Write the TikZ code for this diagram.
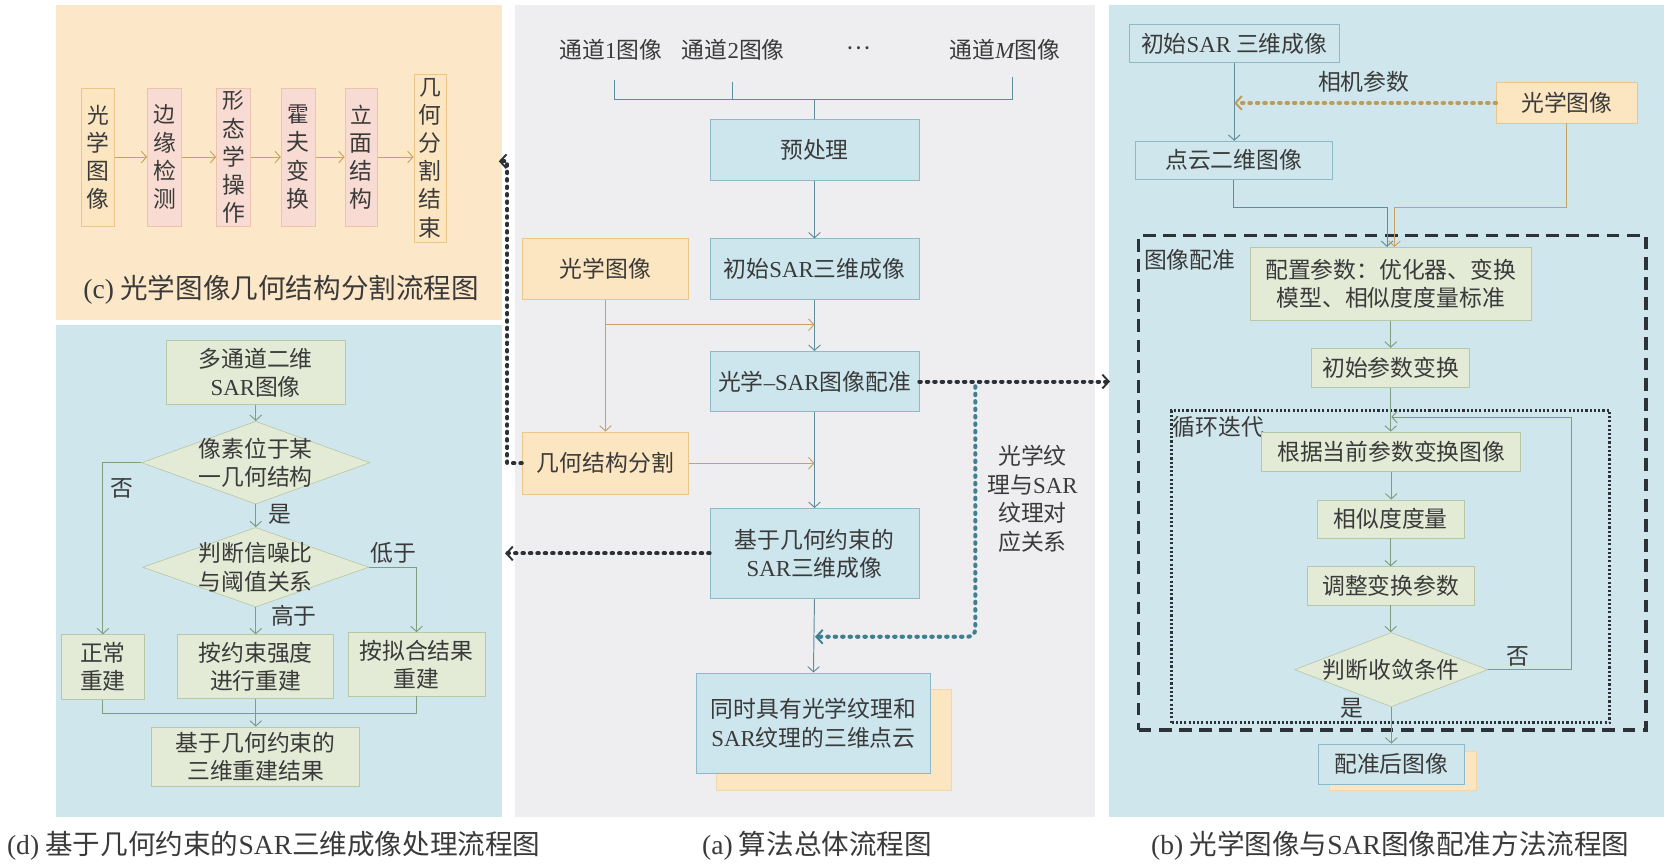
\documentclass[tikz,border=0pt]{standalone}
\usepackage{fontspec}
\setmainfont{Noto Sans CJK SC}
\newfontfamily\lat{Liberation Serif}
\usetikzlibrary{arrows.meta,shapes.geometric}
\definecolor{txt}{HTML}{3A3A3A}
\definecolor{bgc}{HTML}{FCE8C8}
\definecolor{bgb}{HTML}{CFE6EC}
\definecolor{bga}{HTML}{EEEEF0}
\definecolor{bfill}{HTML}{CDE6EE}
\definecolor{bdraw}{HTML}{8FB9C6}
\definecolor{ofill}{HTML}{FCE6C1}
\definecolor{odraw}{HTML}{EBC688}
\definecolor{pfill}{HTML}{F8DCD3}
\definecolor{pdraw}{HTML}{EDC3AE}
\definecolor{gfill}{HTML}{E3EBD6}
\definecolor{gdraw}{HTML}{B7C8A6}
\definecolor{lblue}{HTML}{5E8E9C}
\definecolor{lor}{HTML}{C9A263}
\definecolor{lgreen}{HTML}{7E9E82}
\definecolor{dotk}{HTML}{2C3136}
\definecolor{dott}{HTML}{3F7F8F}
\definecolor{doto}{HTML}{BE9A5C}
\definecolor{dashk}{HTML}{2C3238}
\newcommand\SAR{{\lat SAR}}
\newcommand\vertfont{\fontsize{20.5}{21.8}\selectfont}
\newcommand\bx[7]{\node[#1, minimum width={(#5)-(#3)}, minimum height={(#6)-(#4)}] (#2) at ({((#3)+(#5))/2},{((#4)+(#6))/2}) {#7};}
\tikzset{
  base/.style={draw, line width=0.6pt, inner sep=0pt, align=center, text=txt, font=\fontsize{21.5}{26.5}\selectfont},
  bluebox/.style={base, fill=bfill, draw=bdraw},
  bluebox2/.style={base, fill=bgb, draw=bdraw},
  orbox/.style={base, fill=ofill, draw=odraw},
  pkbox/.style={base, fill=pfill, draw=pdraw},
  gnbox/.style={base, fill=gfill, draw=gdraw},
  shadowbox/.style={base, fill=ofill, draw=odraw!70},
  diam/.style={shape=diamond, draw=gdraw, fill=gfill, line width=0.6pt, inner sep=0pt},
  lbl/.style={inner sep=0pt, text=txt, align=center, font=\fontsize{21.5}{27}\selectfont},
  captxt/.style={inner sep=0pt, text=txt, font=\fontsize{26}{30}\selectfont},
  arr/.style={-{Straight Barb[length=5pt,width=11pt,line width=0.9pt]}},
  lineb/.style={draw=lblue, line width=0.9pt},
  lineo/.style={draw=lor, line width=0.9pt},
  lineg/.style={draw=lgreen, line width=0.9pt},
  kdot/.style={draw=dotk, line width=3.8pt, line cap=round, dash pattern=on 1.4pt off 5.6pt},
  tdot/.style={draw=dott, line width=3.8pt, line cap=round, dash pattern=on 1.4pt off 5.6pt},
  odot/.style={draw=doto, line width=3.8pt, line cap=round, dash pattern=on 1.4pt off 5.6pt},
  bigarr/.style={-{Straight Barb[length=6pt,width=13pt,line width=1.8pt]}},
  dashbox/.style={draw=dashk, line width=3.2pt, dash pattern=on 12pt off 7pt, inner sep=0pt},
  dotbox/.style={draw=dashk, line width=2.8pt, dash pattern=on 2pt off 2pt, inner sep=0pt},
}
\begin{document}
\begin{tikzpicture}[x=1pt,y=-1pt]
\useasboundingbox (0,0) rectangle (1568,815);
\fill[white] (0,0) rectangle (1568,815);
% panel backgrounds
\fill[bgc] (53,5) rectangle (473,302);
\fill[bgb] (53,306) rectangle (473,770);
\fill[bga] (485,5) rectangle (1032,770);
\fill[bgb] (1045,5) rectangle (1568,770);

% ---------- panel (a) ----------
\node[lbl] (ch1) at (575.5,47) {通道{\lat 1}图像};
\node[lbl] (ch2) at (691,47) {通道{\lat 2}图像};
\node[lbl] (chd) at (809,45) {…};
\node[lbl] (chm) at (947,47) {通道{\lat\itshape M}图像};
\bx{bluebox}{pre}{669}{112}{866}{170}{预处理}
\bx{bluebox}{init}{669}{225}{866}{282}{初始\SAR 三维成像}
\bx{orbox}{opt}{492}{225}{649}{282}{光学图像}
\bx{bluebox}{reg}{669}{331}{866}{388}{光学{\lat –}\SAR 图像配准}
\bx{orbox}{seg}{492}{407}{649}{466}{几何结构分割}
\bx{bluebox}{geo}{669}{479}{866}{564}{基于几何约束的\\\SAR 三维成像}
\bx{shadowbox}{outsh}{675}{650}{896}{745}{}
\bx{bluebox}{out}{656}{634}{877}{729}{同时具有光学纹理和\\\SAR 纹理的三维点云}
\node[lbl] (tex) at (973,470) {光学纹\\理与\SAR\\纹理对\\应关系};

\coordinate (k1) at (579,75);
\coordinate (k2) at (690,77);
\coordinate (k3) at (954,73);
\coordinate (kj) at (767.5,94);
\draw[lineb] (k1) |- (kj) -| (k3);
\draw[lineb] (k2) -- (k2 |- kj);
\draw[lineb] (kj) -- (pre.north);
\draw[lineb,arr] (pre.south) -- (init.north);
\draw[lineb,arr] (init.south) -- (reg.north);
\draw[lineb,arr] (reg.south) -- (geo.north);
\draw[lineb,arr] (geo.south) -- (out.north);
\coordinate (oj) at (570.5,306);
\draw[lineo,arr] (opt.south) -- (seg.north);
\draw[lineo,arr] (oj) -- (oj -| reg.north);
\draw[lineo,arr] (seg.east) -- (seg.east -| geo.north);
% dotted links
\coordinate (toB) at (1046,359.5);
\coordinate (toD) at (476,521.5);
\coordinate (segc) at (478,436.5);
\coordinate (toC) at (470,152);
\coordinate (tj) at (919,364);
\coordinate (tm) at (768,600);
\draw[kdot,bigarr] (reg.east) -- (toB);
\draw[kdot,bigarr] (geo.west) -- (toD);
\draw[kdot,bigarr] (seg.west) -- (segc) -- (segc |- toC) -- (toC);
\draw[tdot,bigarr,rounded corners=7pt] (tj) -- (tj |- tm) -- (tm);

% ---------- panel (b) ----------
\bx{bluebox2}{binit}{1064}{23}{1262}{59}{初始\SAR\ 三维成像}
\bx{orbox}{bopt}{1410}{78}{1543}{116}{光学图像}
\bx{bluebox2}{pc}{1070}{133}{1255}{169}{点云二维图像}
\node[lbl] (cam) at (1285,77) {相机参数};
\node[dashbox, minimum width=478, minimum height=466] (regbox) at (1312,455) {};
\node[lbl] (regl) at (1121,245) {图像配准};
\bx{gnbox}{cfg}{1178}{233}{1443}{302}{配置参数：优化器、变换\\模型、相似度度量标准}
\bx{gnbox}{initp}{1236}{328}{1385}{365}{初始参数变换}
\node[dotbox, minimum width=413, minimum height=294] (loopbox) at (1310.5,534) {};
\node[lbl] (loopl) at (1148,402) {循环迭代};
\bx{gnbox}{trans}{1189}{407}{1433}{444}{根据当前参数变换图像}
\bx{gnbox}{sim}{1241}{471}{1380}{507}{相似度度量}
\bx{gnbox}{adj}{1232}{534}{1389}{570}{调整变换参数}
\node[diam, minimum width=182, minimum height=70] (conv) at (1311,631) {};
\node[lbl] (convt) at (conv) {判断收敛条件};
\bx{shadowbox}{aftsh}{1253}{708}{1391}{745}{}
\bx{bluebox2}{after}{1242}{701}{1380}{739}{配准后图像}
\node[lbl] (bno) at (1430,619) {否};
\node[lbl] (byes) at (1274,667) {是};

\draw[odot,bigarr] (bopt.west) -- (bopt.west -| binit.south);
\draw[lineb,arr] (binit.south) -- (binit.south |- pc.north);
\draw[lineb,arr] (pc.south) -- ++(0,26) -| ([xshift=-3.5pt]cfg.north);
\draw[lineo,arr] (bopt.south) -- ++(0,79) -| ([xshift=3.5pt]cfg.north);
\draw[lineg,arr] (cfg.south) -- (cfg.south |- initp.north);
\draw[lineg,arr] (initp.south) -- (initp.south |- trans.north);
\draw[lineg,arr] (trans.south) -- (trans.south |- sim.north);
\draw[lineg,arr] (sim.south) -- (sim.south |- adj.north);
\draw[lineg,arr] (adj.south) -- (adj.south |- conv.north);
\draw[lineg,arr] (conv.south) -- (after.north);
\coordinate (lp) at (1481,393);
\draw[lineg,arr] (conv.east) -| (lp) -- (lp -| conv.north);

% ---------- panel (c) ----------
\bx{orbox}{c1}{77}{83}{108}{213}{\vertfont 光\\学\\图\\像}
\bx{pkbox}{c2}{139}{83}{171}{213}{\vertfont 边\\缘\\检\\测}
\bx{pkbox}{c3}{204}{83}{236}{213}{\vertfont 形\\态\\学\\操\\作}
\bx{pkbox}{c4}{265}{83}{297}{213}{\vertfont 霍\\夫\\变\\换}
\bx{pkbox}{c5}{325}{83}{356}{213}{\vertfont 立\\面\\结\\构}
\bx{orbox}{c6}{390}{70}{421}{228}{\vertfont 几\\何\\分\\割\\结\\束}
\draw[lineo,arr] (c1.east) -- (c1.east -| c2.west);
\draw[lineo,arr] (c2.east) -- (c2.east -| c3.west);
\draw[lineo,arr] (c3.east) -- (c3.east -| c4.west);
\draw[lineo,arr] (c4.east) -- (c4.east -| c5.west);
\draw[lineo,arr] (c5.east) -- (c5.east -| c6.west);
\node[captxt] (capc) at (265,273) {{\lat (c)} 光学图像几何结构分割流程图};

% ---------- panel (d) ----------
\bx{gnbox}{dtop}{157}{321}{325}{381}{多通道二维\\\SAR 图像}
\node[diam, minimum width=215, minimum height=78] (dia1) at (241,436) {};
\node[lbl] (dia1t) at (dia1) {像素位于某\\一几何结构};
\node[diam, minimum width=213, minimum height=75] (dia2) at (241,534.5) {};
\node[lbl] (dia2t) at (dia2) {判断信噪比\\与阈值关系};
\bx{gnbox}{normal}{58}{598}{136}{659}{正常\\重建}
\bx{gnbox}{cons}{167.5}{598}{314.5}{658}{按约束强度\\进行重建}
\bx{gnbox}{fitb}{328}{596}{457}{656}{按拟合结果\\重建}
\bx{gnbox}{res}{143}{685}{339}{741}{基于几何约束的\\三维重建结果}
\node[lbl] (dno) at (115,460) {否};
\node[lbl] (dyes) at (264,485) {是};
\node[lbl] (dlow) at (371,521) {低于};
\node[lbl] (dhigh) at (277,580) {高于};
\draw[lineg,arr] (dtop.south) -- (dia1.north);
\draw[lineg,arr] (dia1.west) -| (normal.north);
\draw[lineg,arr] (dia1.south) -- (dia2.north);
\draw[lineg,arr] (dia2.east) -| (fitb.north);
\draw[lineg,arr] (dia2.south) -- (cons.north);
\coordinate (dj) at (241,672);
\draw[lineg] (normal.south) |- (dj) -| (fitb.south);
\draw[lineg,arr] (cons.south) -- (res.north);

% ---------- captions ----------
\node[captxt] (capd) at (258,797) {{\lat (d)} 基于几何约束的\SAR 三维成像处理流程图};
\node[captxt] (capa) at (770,797) {{\lat (a)} 算法总体流程图};
\node[captxt] (capb) at (1310,797) {{\lat (b)} 光学图像与\SAR 图像配准方法流程图};
\end{tikzpicture}
\end{document}
